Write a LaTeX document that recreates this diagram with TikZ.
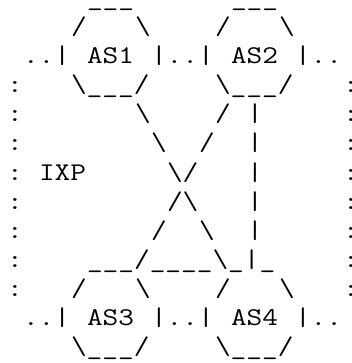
\documentclass[tikz,border=0pt]{standalone}
\usepackage{graphicx}
\tikzset{glyph/.style={anchor=base west, inner sep=0pt, outer sep=0pt,
  font=\fontsize{25.5pt}{29pt}\selectfont\ttfamily, text=black}}
\newcommand\gl[3]{\node[glyph] (g#2x#1) at (#1,#2) {\scalebox{1.195}[1]{#3}};}
\newcommand\bs{\textbackslash}
\begin{document}
\begin{tikzpicture}
\fill[white] (0pt,0pt) rectangle (352pt,-363pt);
\useasboundingbox (0pt,0pt) rectangle (352pt,-363pt);
\begin{scope}[shift={(7pt,-6pt)}, x=16pt, y=-29pt]
% row 0
\gl{5}{0}{\_\_\_}
\gl{14}{0}{\_\_\_}
% row 1
\gl{4}{1}{/}\gl{8}{1}{\bs}\gl{13}{1}{/}\gl{17}{1}{\bs}
% row 2
\gl{1}{2}{..|}\gl{5}{2}{AS1}\gl{9}{2}{|..|}\gl{14}{2}{AS2}\gl{18}{2}{|..}
% row 3
\gl{0}{3}{:}\gl{4}{3}{\bs\_\_\_/}\gl{13}{3}{\bs\_\_\_/}\gl{21}{3}{:}
% row 4
\gl{0}{4}{:}\gl{8}{4}{\bs}\gl{13}{4}{/}\gl{15}{4}{|}\gl{21}{4}{:}
% row 5
\gl{0}{5}{:}\gl{9}{5}{\bs}\gl{12}{5}{/}\gl{15}{5}{|}\gl{21}{5}{:}
% row 6
\gl{0}{6}{:}\gl{2}{6}{IXP}\gl{10}{6}{\bs/}\gl{15}{6}{|}\gl{21}{6}{:}
% row 7
\gl{0}{7}{:}\gl{10}{7}{/\bs}\gl{15}{7}{|}\gl{21}{7}{:}
% row 8
\gl{0}{8}{:}\gl{9}{8}{/}\gl{12}{8}{\bs}\gl{15}{8}{|}\gl{21}{8}{:}
% row 9
\gl{0}{9}{:}\gl{5}{9}{\_\_\_/\_\_\_\_\bs\_|\_}\gl{21}{9}{:}
% row 10
\gl{0}{10}{:}\gl{4}{10}{/}\gl{8}{10}{\bs}\gl{13}{10}{/}\gl{17}{10}{\bs}\gl{21}{10}{:}
% row 11
\gl{1}{11}{..|}\gl{5}{11}{AS3}\gl{9}{11}{|..|}\gl{14}{11}{AS4}\gl{18}{11}{|..}
% row 12
\gl{4}{12}{\bs\_\_\_/}\gl{13}{12}{\bs\_\_\_/}
\end{scope}
\end{tikzpicture}
\end{document}
